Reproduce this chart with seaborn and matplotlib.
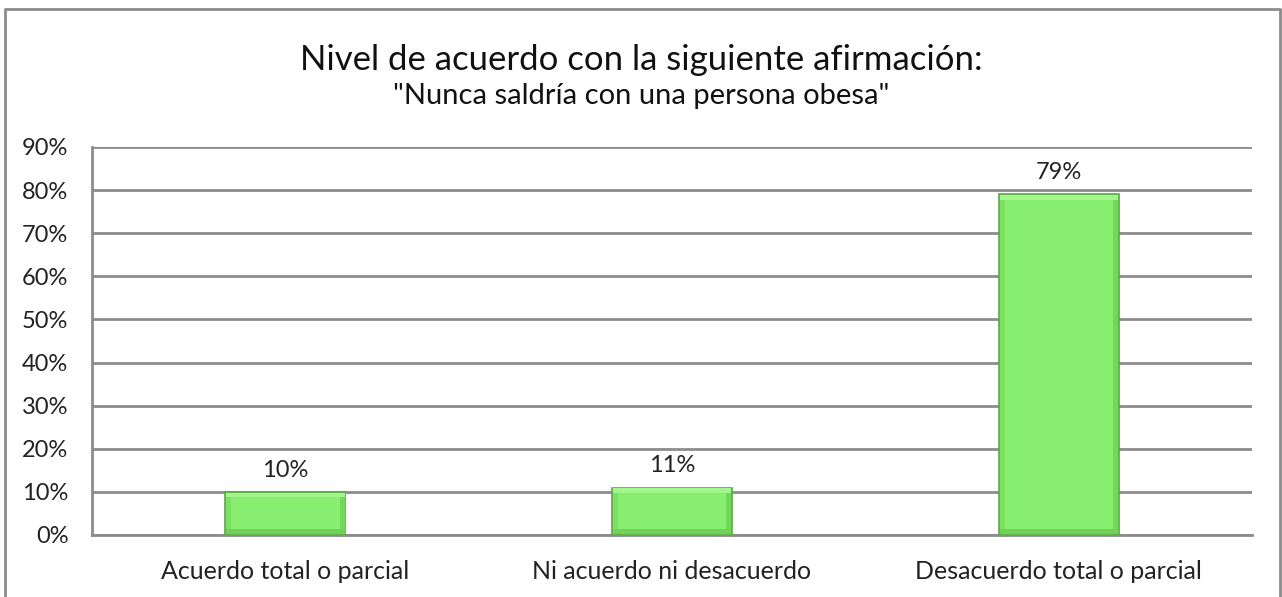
import matplotlib
matplotlib.use("Agg")
import matplotlib.pyplot as plt
from matplotlib.lines import Line2D
from matplotlib.ticker import PercentFormatter
import seaborn as sns
import pandas as pd

# Data
categories = ["Acuerdo total o parcial", "Ni acuerdo ni desacuerdo", "Desacuerdo total o parcial"]
values = [0.10, 0.11, 0.79]
labels = ["10%", "11%", "79%"]

df = pd.DataFrame({"categoria": categories, "valor": values})

sns.set_style("white")
plt.rcParams["font.family"] = ["Lato", "DejaVu Sans"]

fig = plt.figure(figsize=(12.82, 5.97), dpi=100)
ax = fig.add_axes([0.0718, 0.1039, 0.9766 - 0.0718, 0.7538 - 0.1039])

sns.barplot(data=df, x="categoria", y="valor", color="#88EE70", width=0.31,
            saturation=1, edgecolor="#5AA845", linewidth=1.2, ax=ax, zorder=3)

# bevel look: light band on top, darker bands on sides and bottom
bx, by = 0.013, 0.011
for p in list(ax.patches):
    x, w, h = p.get_x(), p.get_width(), p.get_height()
    ax.bar(x + w / 2, by, width=w - 0.004, bottom=h - by - 0.002,
           color="#A3F58D", linewidth=0, zorder=4)
    ax.bar(x + w / 2, by, width=w - 0.004, bottom=0.002,
           color="#70D158", linewidth=0, zorder=4)
    ax.bar(x + bx / 2 + 0.002, h - 2 * by - 0.004, width=bx, bottom=by + 0.002,
           color="#7CE063", linewidth=0, zorder=4)
    ax.bar(x + w - bx / 2 - 0.002, h - 2 * by - 0.004, width=bx, bottom=by + 0.002,
           color="#74D65B", linewidth=0, zorder=4)

for i, (v, t) in enumerate(zip(values, labels)):
    ax.text(i, v + 0.026, t, ha="center", va="bottom", fontsize=17, color="#222222")

ax.set_xlim(-0.5, 2.5)
ax.set_ylim(0, 0.9)
ax.set_yticks([i / 10 for i in range(10)])
ax.yaxis.set_major_formatter(PercentFormatter(1.0, decimals=0))
ax.grid(axis="y", color="#8C8C8C", linewidth=2)
ax.set_axisbelow(True)
ax.set_xlabel("")
ax.set_ylabel("")
for s in ["top", "right"]:
    ax.spines[s].set_visible(False)
ax.spines["left"].set_color("#8C8C8C")
ax.spines["left"].set_linewidth(2)
ax.spines["bottom"].set_color("#8C8C8C")
ax.spines["bottom"].set_linewidth(2)
ax.tick_params(axis="y", labelsize=17, colors="#222222", pad=17, length=0)
ax.tick_params(axis="x", labelsize=18, colors="#222222", pad=18, length=0)

fig.text(0.5, 0.9, "Nivel de acuerdo con la siguiente afirmación:", ha="center",
         va="center", fontsize=25, color="#111111")
fig.text(0.5, 0.84, '"Nunca saldría con una persona obesa"', ha="center",
         va="center", fontsize=21, color="#111111")

# outer chart frame (left, top, right)
fx0, fx1, fy = 5 / 1282, 1280 / 1282, 1 - 9 / 597
fig.add_artist(Line2D([fx0, fx0, fx1, fx1], [0, fy, fy, 0], color="#8C8C8C",
                      linewidth=2, transform=fig.transFigure))

fig.savefig("out.png", dpi=100, facecolor="white")
